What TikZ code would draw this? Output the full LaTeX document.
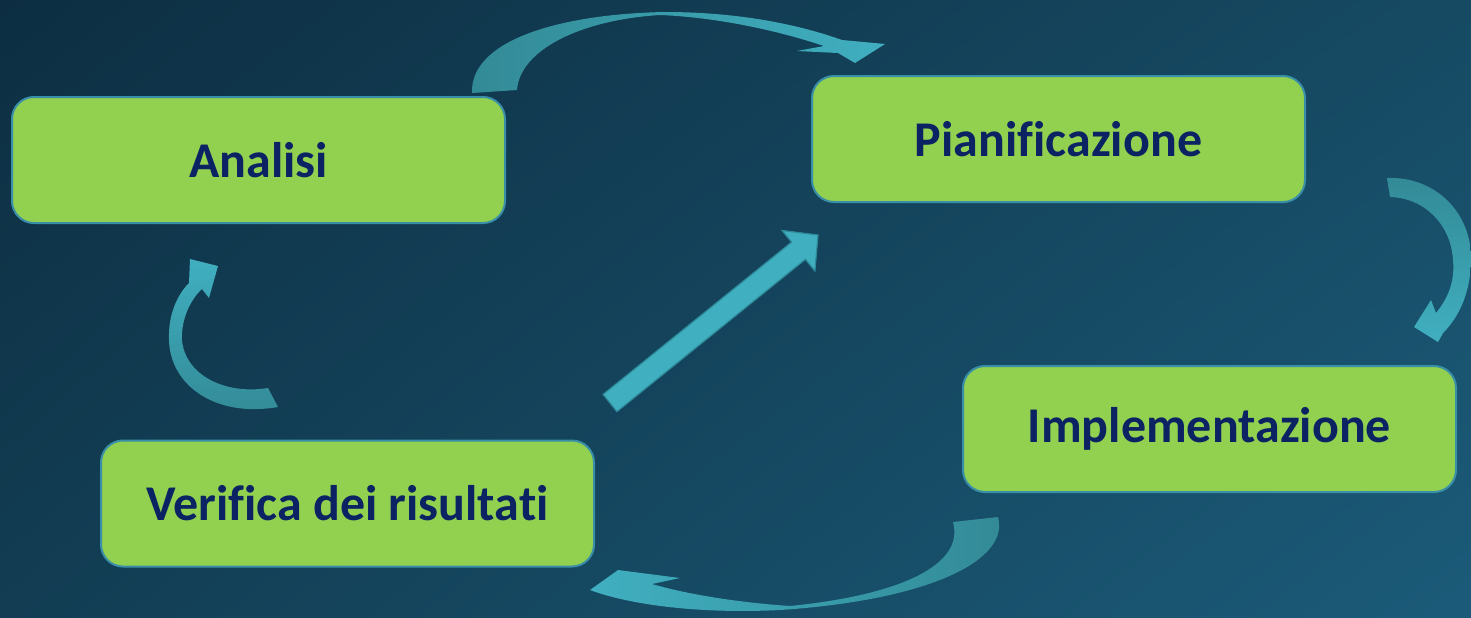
\documentclass[tikz,border=0pt]{standalone}
\usepackage{fontspec}
\setmainfont{Carlito}[Ligatures=NoCommon]
\usetikzlibrary{shadings}
\definecolor{boxgreen}{HTML}{92D050}
\definecolor{boxedge}{HTML}{3A8FA8}
\definecolor{navy}{HTML}{0B2263}
\definecolor{arrowfill}{HTML}{40AFC0}
\definecolor{arrowedge}{HTML}{2E8A99}
\definecolor{arrowtail}{HTML}{338A96}
\definecolor{bgUL}{HTML}{0D2E42}
\definecolor{bgUR}{HTML}{164A63}
\definecolor{bgLL}{HTML}{123D53}
\definecolor{bgLR}{HTML}{1B5B79}
\tikzset{
  phase/.style={draw=boxedge, line width=1pt, fill=boxgreen, rounded corners=11pt,
    minimum width=246.5pt, minimum height=63pt, inner sep=0pt,
    font=\fontsize{25}{28}\selectfont\bfseries, text=navy},
  blockarrow/.style={fill=arrowfill, draw=arrowedge, line width=0.6pt, line join=miter},
  curvedarrow/.style={draw=none}
}
\begin{document}
\begin{tikzpicture}[x=0.5pt, y=-0.5pt]
\shade[upper left=bgUL, upper right=bgUR, lower left=bgLL, lower right=bgLR] (0,0) rectangle (1471,617);
\useasboundingbox (0,0) rectangle (1471,617);

% boxes
\node[phase] (analisi) at (258.5,160) {Analisi};
\node[phase] (pian) at (1058.5,139) {Pianificazione};
\node[phase] (impl) at (1209.5,429) {Implementazione};
\node[phase] (verif) at (347.5,503.5) {Verifica dei risultati};

% top curved arrow (Analisi -> Pianificazione)
\shade[curvedarrow, left color=arrowtail, right color=arrowfill]
  (472,93) .. controls (470,40) and (560,14) .. (665,12)
  .. controls (740,12) and (800,25) .. (842,40)
  -- (885,44) -- (855,63) -- (838,53) -- (797,51) -- (824,46)
  .. controls (770,28) and (710,17) .. (660,15)
  .. controls (580,20) and (520,50) .. (517,90) -- cycle;

% right curved arrow (Pianificazione -> Implementazione)
\shade[curvedarrow, top color=arrowtail, bottom color=arrowfill]
  (1387,178) .. controls (1437,176) and (1473,215) .. (1471,262)
  .. controls (1470,295) and (1458,318) .. (1443,333)
  -- (1438,342) -- (1414,327) -- (1431,300) -- (1436,313)
  .. controls (1448,298) and (1455,282) .. (1453,260)
  .. controls (1451,225) and (1425,198) .. (1390,197) -- cycle;

% bottom curved arrow (Implementazione -> Verifica)
\shade[curvedarrow, left color=arrowfill, right color=arrowtail]
  (998,517) .. controls (1010,560) and (930,600) .. (780,610)
  .. controls (700,614) and (630,605) .. (590,590)
  -- (618,570) -- (680,578) -- (652,584)
  .. controls (700,598) and (760,604) .. (790,606)
  .. controls (900,595) and (965,565) .. (953,522) -- cycle;

% left curved arrow (Verifica -> Analisi)
\shade[curvedarrow, top color=arrowfill, bottom color=arrowtail]
  (278,407) .. controls (215,418) and (170,385) .. (169,340)
  .. controls (168,315) and (177,295) .. (189,283)
  -- (190,259) -- (218,266) -- (209,298) -- (202,289)
  .. controls (190,300) and (181,320) .. (182,340)
  .. controls (185,375) and (225,395) .. (268,388) -- cycle;

% straight arrow (Verifica -> Pianificazione)
\draw[blockarrow]
  (616.9,411.6) -- (805.4,259.3) -- (814.9,271) -- (818,235)
  -- (782.1,230.5) -- (791.6,242.1) -- (603.1,394.4) -- cycle;
\end{tikzpicture}
\end{document}
